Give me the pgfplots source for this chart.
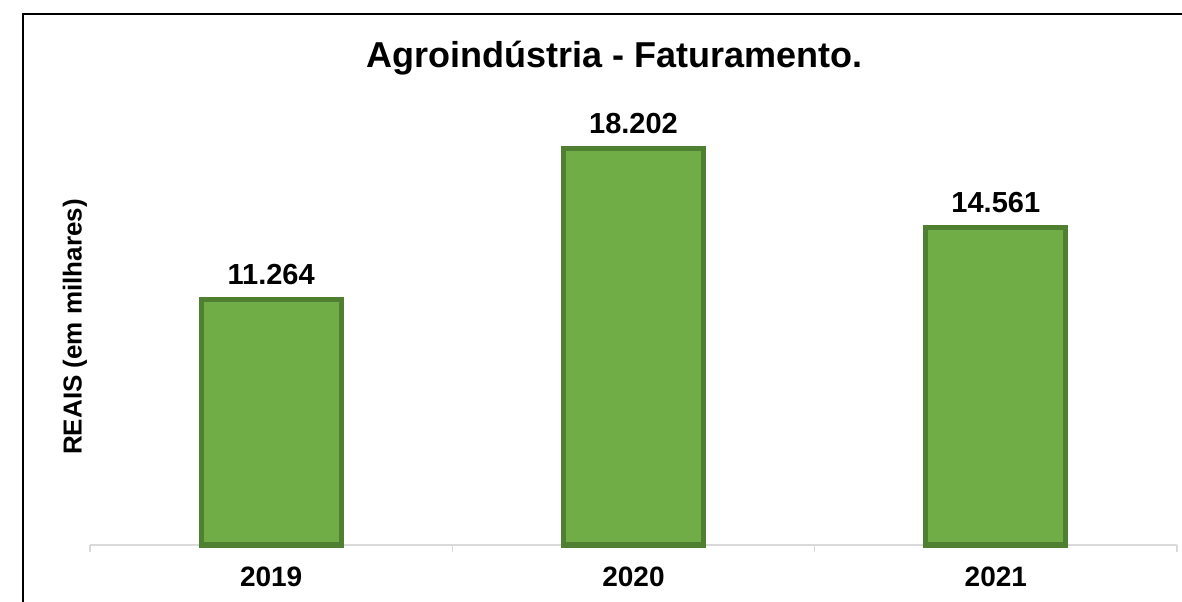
\documentclass[border=0pt]{standalone}
\usepackage{pgfplots}
\pgfplotsset{compat=1.18}
\usepackage{fontspec}
\setmainfont{Liberation Sans}
\definecolor{barg}{HTML}{70AD47}
\definecolor{bard}{HTML}{4F7F31}
\definecolor{axg}{HTML}{D9D9D9}
\begin{document}
\begin{tikzpicture}
\useasboundingbox (0,0) rectangle (591bp,301bp);
\draw[line width=1.2bp, black] (11.5bp,-20bp) -- (11.5bp,294bp) -- (600bp,294bp);
\node[font=\bfseries\fontsize{18bp}{20bp}\selectfont, anchor=base] at (307.25bp,267bp) {Agroindústria - Faturamento.};
\node[font=\bfseries\fontsize{13bp}{15bp}\selectfont, rotate=90] at (37.5bp,137.5bp) {REAIS (em milhares)};
\begin{axis}[
  at={(45bp,28.5bp)}, anchor=south west,
  scale only axis, width=543.5bp, height=218bp,
  xmin=-0.5, xmax=2.5, ymin=0, ymax=20000,
  axis y line=none, axis x line*=bottom,
  x axis line style={-, draw=axg, line width=0.8bp},
  xtick={0,1,2}, xticklabels={2019,2020,2021},
  major tick length=0pt,
  extra x ticks={-0.5,0.5,1.5,2.5}, extra x tick labels={},
  extra x tick style={major tick length=3.5bp, tick align=outside, tick style={draw=axg, line width=0.8bp}},
  xticklabel style={font=\bfseries\fontsize{14bp}{16bp}\selectfont, anchor=north, inner sep=0pt, yshift=-11bp},
  ybar, bar width=70bp,
  point meta=explicit symbolic,
  nodes near coords,
  nodes near coords style={font=\bfseries\fontsize{14.5bp}{16bp}\selectfont, anchor=south, inner sep=0pt, yshift=6bp},
  clip=false,
]
\addplot[fill=barg, draw=bard, line width=2.5bp] coordinates {(0,11264) [11.264] (1,18202) [18.202] (2,14561) [14.561]};
\end{axis}
\end{tikzpicture}
\end{document}
